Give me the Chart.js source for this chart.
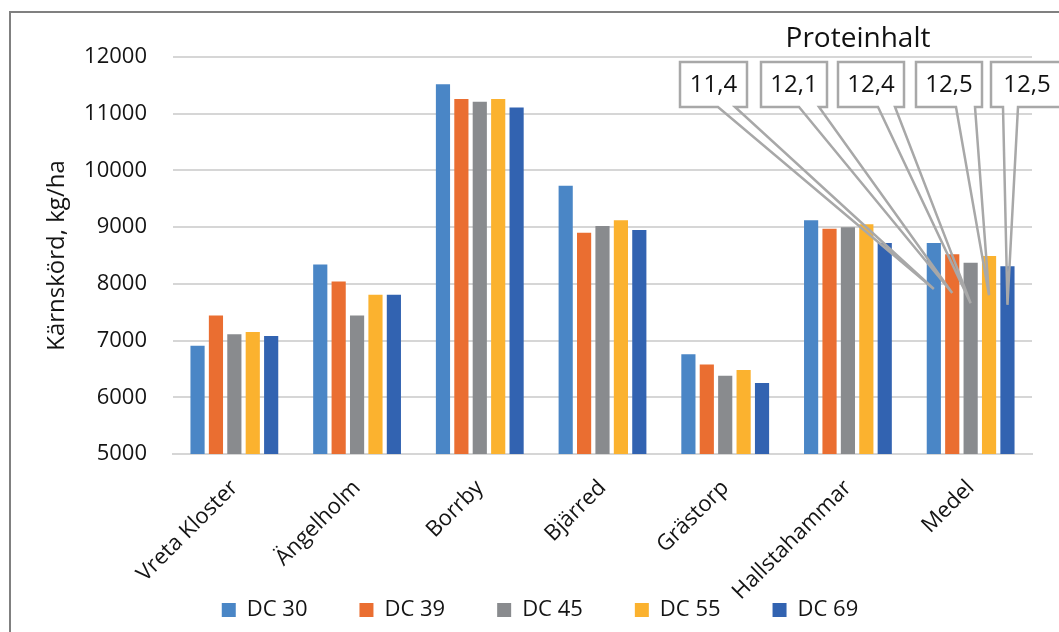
<!DOCTYPE html>
<html>
<head>
<meta charset="utf-8">
<script src="https://cdn.jsdelivr.net/npm/chart.js@4.4.1/dist/chart.umd.min.js"></script>
<style>
  body { margin: 0; background: #fff; overflow: hidden; }
  #ram { position: absolute; left: 9px; top: 11px; width: 1200px; height: 800px;
         border-left: 2px solid #808080; border-top: 2px solid #808080; }
  #wrap { position: absolute; left: 0; top: 0; width: 1059px; height: 632px; }
</style>
</head>
<body>
<div id="ram"></div>
<div id="wrap"><canvas id="graf"></canvas></div>
<script>
// Kärnskörd per plats och stadium
const platser = ['Vreta Kloster', 'Ängelholm', 'Borrby', 'Bjärred', 'Grästorp', 'Hallstahammar', 'Medel'];
const dc30 = [6910, 8340, 11520, 9730, 6760, 9120, 8720];
const dc39 = [7440, 8040, 11260, 8900, 6580, 8970, 8520];
const dc45 = [7110, 7440, 11210, 9020, 6380, 9000, 8370];
const dc55 = [7150, 7810, 11260, 9120, 6480, 9050, 8490];
const dc69 = [7080, 7810, 11110, 8950, 6250, 8720, 8310];
const yTicks = [5000, 6000, 7000, 8000, 9000, 10000, 11000, 12000];

// Proteinhalt för medel, och var pilarna pekar
const protein = ['11,4', '12,1', '12,4', '12,5', '12,5'];
const pilMal = [7910, 7840, 7660, 7800, 7630];

const serier = [
  { label: 'DC 30', data: dc30, backgroundColor: '#4a86c6' },
  { label: 'DC 39', data: dc39, backgroundColor: '#ea6e31' },
  { label: 'DC 45', data: dc45, backgroundColor: '#898b8e' },
  { label: 'DC 55', data: dc55, backgroundColor: '#fbb22f' },
  { label: 'DC 69', data: dc69, backgroundColor: '#3263b1' }
];

// rutornas läge (x, bredd, pilens fot)
const rutor = [
  { x: 680, w: 67, b1: 38, b2: 55 },
  { x: 761, w: 66, b1: 38, b2: 58 },
  { x: 838, w: 66, b1: 40, b2: 57 },
  { x: 916, w: 66, b1: 40, b2: 59 },
  { x: 991, w: 72, b1: 12, b2: 27 }
];

const LEGEND_PAD = 52;

// legenden tar nästan ingen höjd, och flyttas upp över etiketterna
const legendPlats = {
  id: 'legendPlats',
  afterInit(chart) {
    const leg = chart.legend;
    const fit = leg.fit.bind(leg);
    leg.fit = function () { fit(); this.height = 20; };
  },
  afterLayout(chart) {
    const leg = chart.legend;
    leg.top = 610 - 11 - LEGEND_PAD;
    leg.bottom = leg.top + 2 * LEGEND_PAD + 22;
  }
};

const pratbubblor = {
  id: 'pratbubblor',
  afterDraw(chart) {
    const ctx = chart.ctx;
    const yAxel = chart.scales.y;
    const sista = platser.length - 1;
    ctx.save();
    ctx.textAlign = 'center';
    ctx.textBaseline = 'middle';
    ctx.fillStyle = '#111';
    ctx.font = '28px "Open Sans"';
    ctx.fillText('Proteinhalt', 858, 39);
    ctx.font = '24px "Open Sans"';
    rutor.forEach((r, i) => {
      const stapel = chart.getDatasetMeta(i).data[sista];
      const tx = stapel.x;
      const ty = yAxel.getPixelForValue(pilMal[i]);
      const top = 62, h = 45, bot = top + h;
      ctx.fillStyle = '#fff';
      ctx.fillRect(r.x, top, r.w, h);
      ctx.beginPath();
      ctx.moveTo(r.x + r.b1, bot);
      ctx.lineTo(r.x, bot);
      ctx.lineTo(r.x, top);
      ctx.lineTo(r.x + r.w, top);
      ctx.lineTo(r.x + r.w, bot);
      ctx.lineTo(r.x + r.b2, bot);
      ctx.lineTo(tx, ty);
      ctx.closePath();
      ctx.strokeStyle = '#a8a8a8';
      ctx.lineWidth = 2.5;
      ctx.stroke();
      ctx.fillStyle = '#111';
      ctx.fillText(protein[i], r.x + r.w / 2, top + h / 2 + 1);
    });
    ctx.restore();
  }
};

function rita() {
  Chart.defaults.font.family = '"Open Sans"';
  Chart.defaults.color = '#141414';

  new Chart(document.getElementById('graf'), {
    type: 'bar',
    data: {
      labels: platser,
      datasets: serier.map(s => ({
        ...s,
        borderWidth: 0,
        categoryPercentage: 0.75,
        barPercentage: 0.77
      }))
    },
    options: {
      responsive: true,
      maintainAspectRatio: false,
      animation: false,
      layout: { padding: { top: 57, right: 27, left: 48, bottom: 0 } },
      plugins: {
        tooltip: { enabled: false },
        legend: {
          position: 'bottom',
          labels: { boxWidth: 14, boxHeight: 14, padding: LEGEND_PAD, font: { size: 22 }, color: '#141414' }
        }
      },
      scales: {
        x: {
          grid: { display: false },
          border: { color: '#d6d6d6', width: 2 },
          ticks: { maxRotation: 45, minRotation: 45, padding: 13, font: { size: 22 } },
          afterFit: (skala) => { skala.height = 158; }
        },
        y: {
          min: 5000,
          max: 12000,
          afterBuildTicks: (skala) => { skala.ticks = yTicks.map(v => ({ value: v })); },
          grid: { color: '#d6d6d6', lineWidth: 2, drawTicks: false },
          border: { display: false },
          ticks: { padding: 26, font: { size: 22 }, callback: (v) => String(v) },
          title: {
            display: true,
            text: 'Kärnskörd, kg/ha',
            font: { size: 24 },
            padding: { top: -5, bottom: 0 }
          },
          afterFit: (skala) => { skala.width = 125; }
        }
      }
    },
    plugins: [legendPlats, pratbubblor]
  });
}

document.fonts.load('22px "Open Sans"').then(rita, rita);
</script>
</body>
</html>
